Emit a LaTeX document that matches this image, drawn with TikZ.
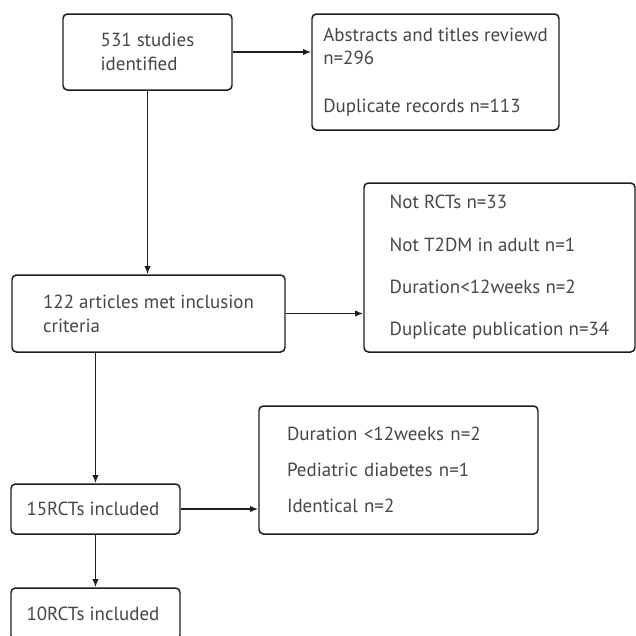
\documentclass[tikz,border=0pt]{standalone}
\usepackage{fontspec}
\setmainfont{PT Sans}
\usepackage{tikz}
\usetikzlibrary{arrows.meta, positioning, calc}
\definecolor{inkgray}{RGB}{70, 70, 70}
\definecolor{linegray}{RGB}{30, 30, 30}

\begin{document}
\begin{tikzpicture}[
    stage/.style={draw=linegray, line width=0.85pt, rounded corners=2.5pt, align=left, inner sep=0pt,
      text=inkgray, font=\fontsize{10.8}{13.6}\selectfont},
    flow/.style={-{Latex[length=4.6pt, width=3.6pt]}, line width=0.9pt, draw=linegray}
  ]
  \useasboundingbox (0, 0) rectangle (12.72, -12.72);
  \clip (0, 0) rectangle (12.72, -12.72);

  % Search and screening
  \node[stage, minimum width=3.38cm, minimum height=1.52cm] (found) at (2.95, -1.04) {
    531 studies\\identified
  };
  \node[stage, minimum width=4.94cm, minimum height=2.32cm] (screened) at (8.71, -1.44) {
    Abstracts and titles reviewd\\n=296\\[13.6pt]Duplicate records n=113
  };

  % Full text
  \node[stage, minimum width=5.46cm, minimum height=1.54cm] (eligible) at (2.97, -6.27) {
    122 articles met inclusion\\criteria
  };
  \node[stage, minimum width=5.42cm, minimum height=3.38cm] (excluded) at (9.99, -5.35) {
    Not RCTs n=33\\[10.5pt]Not T2DM in adult n=1\\[10.5pt]Duration<12weeks n=2\\[10.5pt]Duplicate publication n=34
  };

  % Trials
  \node[stage, minimum width=3.38cm, minimum height=1.0cm] (trials) at (1.91, -10.18) {
    15RCTs included
  };
  \node[stage, minimum width=5.58cm, minimum height=2.56cm, text width=4.46cm] (removed) at (7.97, -9.40) {
    Duration <12weeks n=2\\[6.8pt]Pediatric diabetes n=1\\[6.8pt]Identical n=2
  };
  \node[stage, minimum width=3.38cm, minimum height=1.04cm] (final) at (1.91, -12.28) {
    10RCTs included
  };

  \draw[flow] (found.east) -- (found.east -| screened.west);
  \draw[flow] (found.south) -- (found.south |- eligible.north);
  \draw[flow] (eligible.east) -- (eligible.east -| excluded.west);
  \draw[flow] (trials.north |- eligible.south) -- (trials.north);
  \draw[flow] (trials.east) -- (trials.east -| removed.west);
  \draw[flow] (trials.south) -- (final.north);
\end{tikzpicture}
\end{document}
